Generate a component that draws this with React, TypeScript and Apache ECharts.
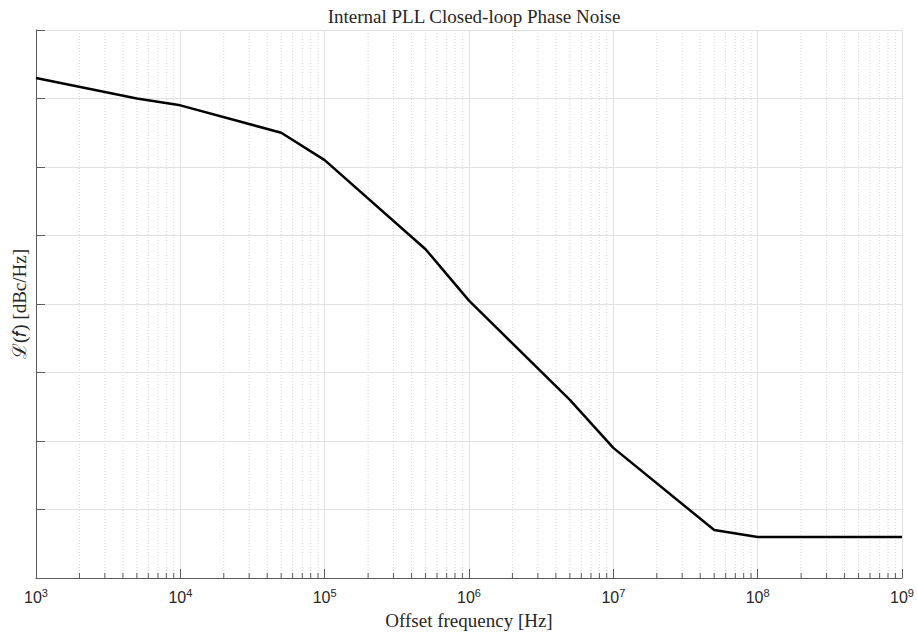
import React, { useEffect, useRef } from "react";
import * as echarts from "echarts";

const TITLE = "Internal PLL Closed-loop Phase Noise";
const X_NAME = "Offset frequency [Hz]";
const Y_NAME = "ℒ(𝑓) [dBc/Hz]";

const freqHz = [1e3, 5e3, 1e4, 5e4, 1e5, 5e5, 1e6, 5e6, 1e7, 5e7, 1e8, 1e9];
const noiseDbc = [-87, -90, -91, -95, -99, -112, -119.5, -134, -141, -153, -154, -154];

const X_MIN = 1e3;
const X_MAX = 1e9;
const Y_MIN = -160;
const Y_MAX = -80;
const Y_STEP = 10;

const decades = [1e3, 1e4, 1e5, 1e6, 1e7, 1e8];
const minorMultipliers = [2, 3, 4, 5, 6, 7, 8, 9];

export default function App() {
  const ref = useRef<HTMLDivElement>(null);
  useEffect(() => {
    if (!ref.current) return;
    const chart = echarts.init(ref.current, null, { renderer: "svg" });
    const minorTicks: number[] = [];
    decades.forEach((d) => minorMultipliers.forEach((m) => minorTicks.push(d * m)));
    const axisColor = "#5a5a5a";
    const gridColor = "#e0e0e0";
    chart.setOption({
      animation: false,
      backgroundColor: "#ffffff",
      title: {
        text: TITLE,
        left: 469,
        top: 2,
        textAlign: "center",
        textStyle: {
          fontFamily: "Liberation Serif",
          fontSize: 19,
          fontWeight: "normal",
          color: "#262626",
        },
      },
      grid: { left: 36, right: 15, top: 30, bottom: 56, containLabel: false },
      xAxis: {
        type: "log",
        logBase: 10,
        min: X_MIN,
        max: X_MAX,
        interval: 1,
        name: X_NAME,
        nameLocation: "middle",
        nameGap: 33,
        nameTextStyle: { fontFamily: "Liberation Serif", fontSize: 19, color: "#262626" },
        axisLine: { show: true, lineStyle: { color: axisColor, width: 1 } },
        axisTick: { show: true, inside: true, length: 9, lineStyle: { color: axisColor } },
        minorTick: { show: false },
        splitLine: { show: true, lineStyle: { color: gridColor, width: 1 } },
        axisLabel: {
          margin: 9,
          formatter: (v: number) => `{b|10}{s|${Math.round(Math.log10(v))}}`,
          rich: {
            b: { fontFamily: "Liberation Sans", fontSize: 16, color: "#262626" },
            s: { fontFamily: "Liberation Sans", fontSize: 11, color: "#262626", padding: [0, 0, 9, 0] },
          },
        },
      },
      yAxis: {
        type: "value",
        min: Y_MIN,
        max: Y_MAX,
        interval: Y_STEP,
        name: Y_NAME,
        nameLocation: "middle",
        nameGap: 7,
        nameRotate: 90,
        nameTextStyle: { fontFamily: "Liberation Serif", fontSize: 19, color: "#262626" },
        axisLine: { show: true, lineStyle: { color: axisColor, width: 1 } },
        axisTick: { show: true, inside: true, length: 9, lineStyle: { color: axisColor } },
        axisLabel: { show: false },
        splitLine: { show: true, lineStyle: { color: gridColor, width: 1 } },
      },
      series: [
        {
          type: "custom",
          silent: true,
          z: 1,
          data: minorTicks.map((v) => [v, Y_MIN]),
          encode: { x: 0, y: 1 },
          renderItem: (_p: any, api: any) => {
            const x = api.value(0);
            const b = api.coord([x, Y_MIN]);
            const t = api.coord([x, Y_MAX]);
            return {
              type: "group",
              children: [
                {
                  type: "line",
                  shape: { x1: b[0], y1: t[1], x2: b[0], y2: b[1] },
                  style: { stroke: "#d8d8d8", lineWidth: 1, lineDash: [1, 2] },
                },
                {
                  type: "line",
                  shape: { x1: b[0], y1: b[1] - 5, x2: b[0], y2: b[1] },
                  style: { stroke: axisColor, lineWidth: 1 },
                },
              ],
            };
          },
        },
        {
          type: "line",
          z: 3,
          data: freqHz.map((f, i) => [f, noiseDbc[i]]),
          showSymbol: false,
          symbol: "none",
          lineStyle: { color: "#000000", width: 2.5 },
        },
      ],
    });
    return () => chart.dispose();
  }, []);
  return <div ref={ref} style={{ width: 917, height: 635, position: "absolute", left: 0, top: 0 }} />;
}
